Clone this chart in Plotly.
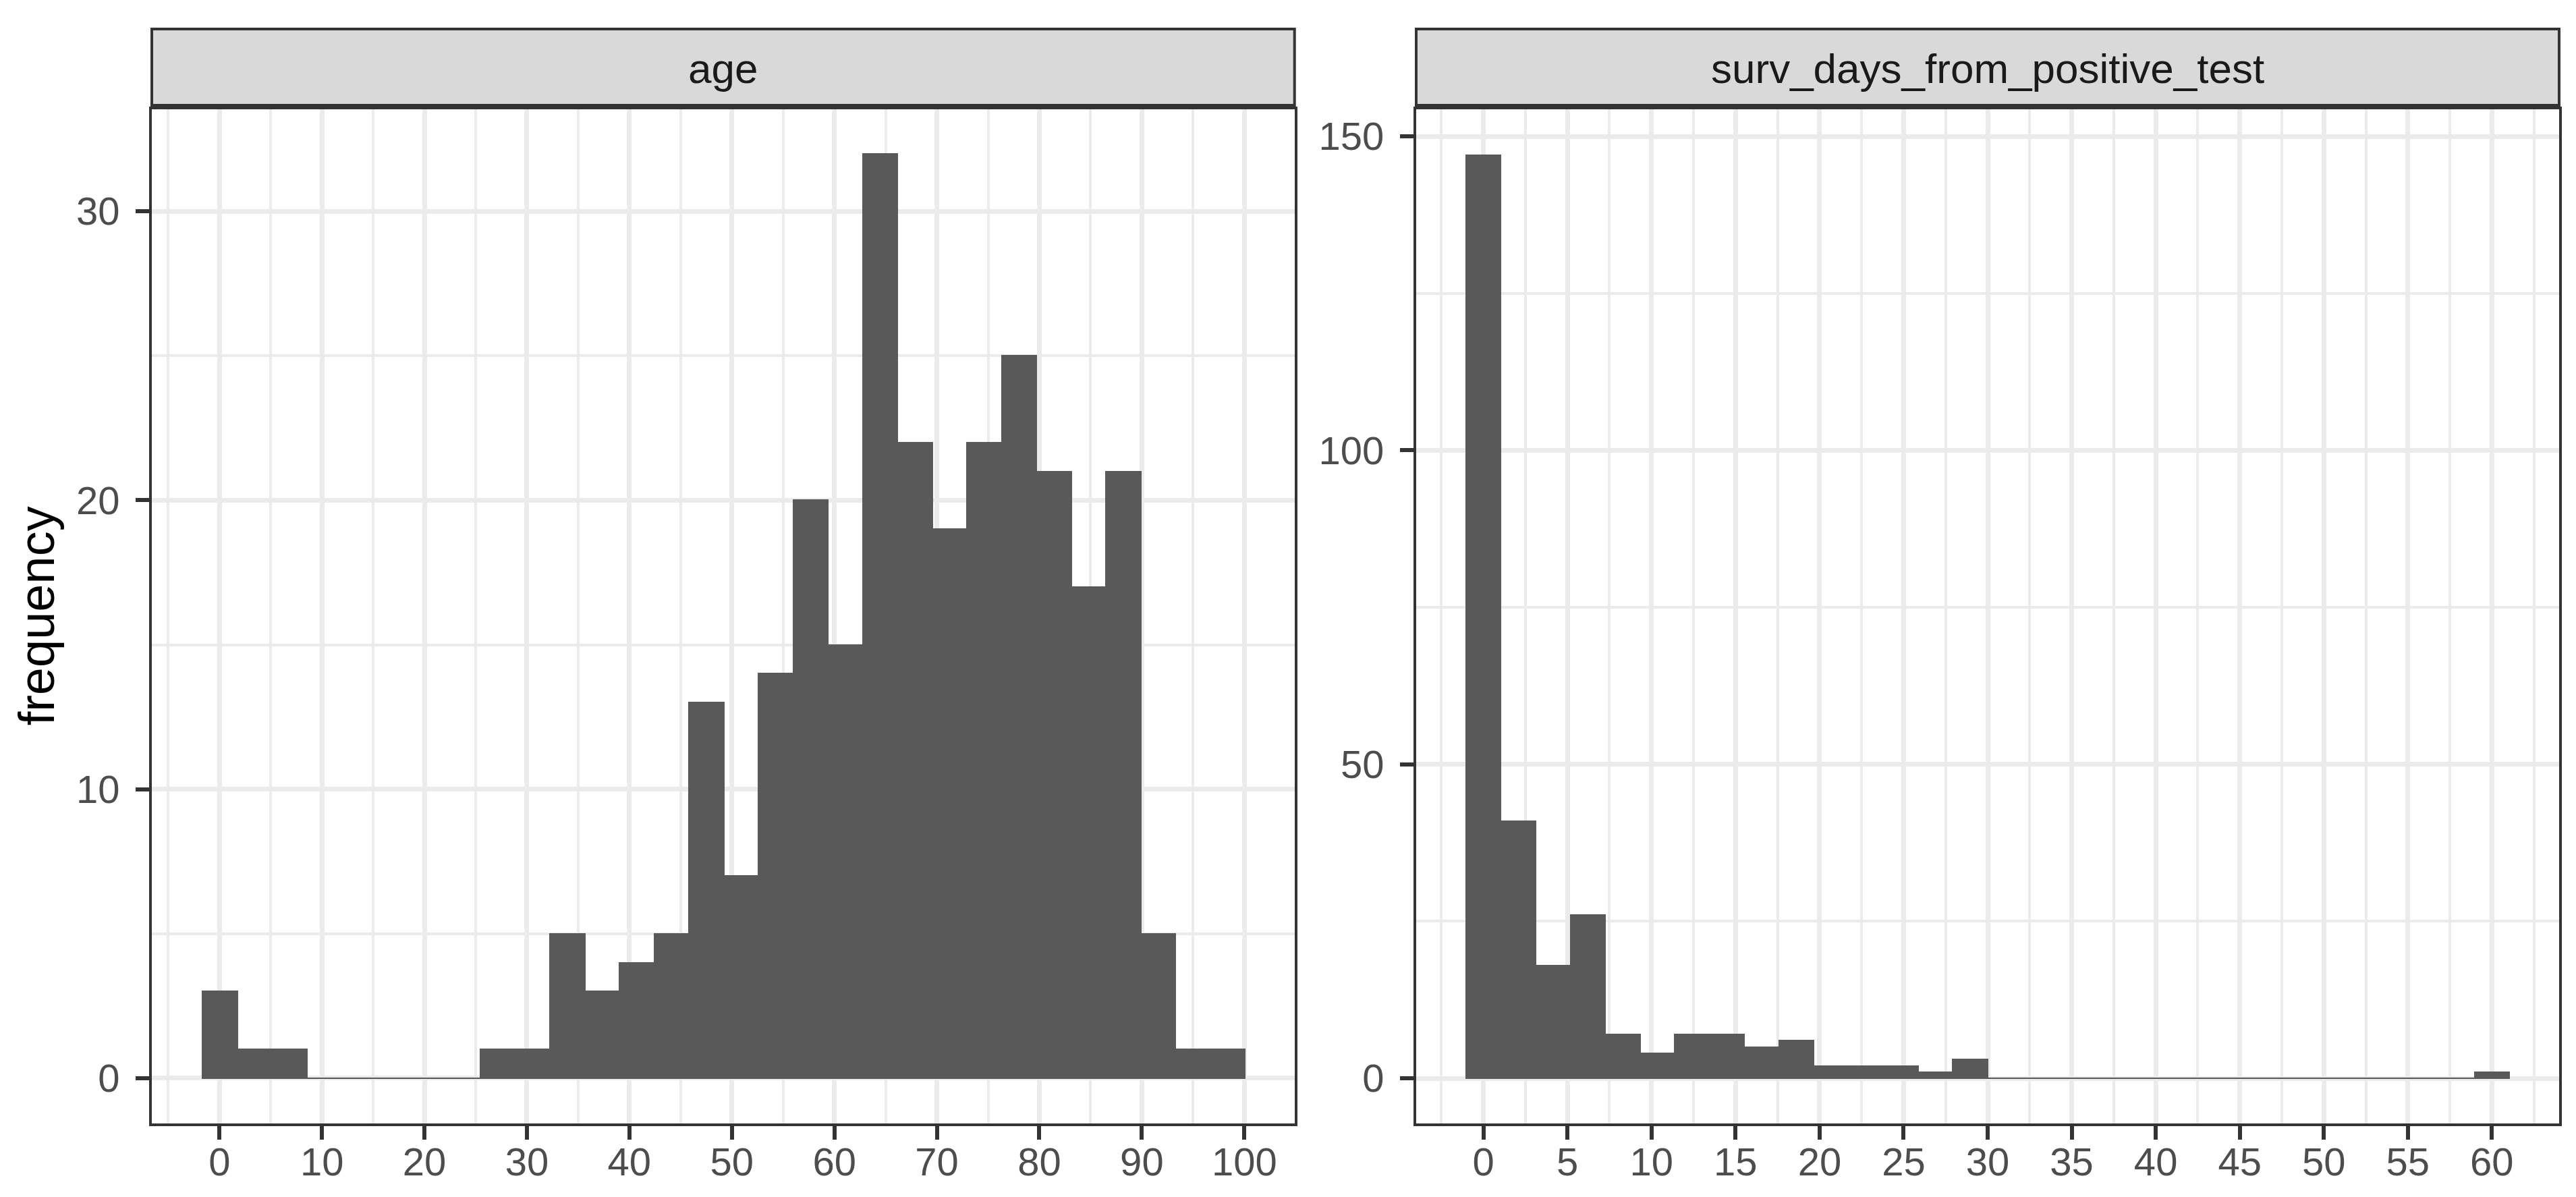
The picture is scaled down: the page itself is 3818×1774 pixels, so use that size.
import plotly.graph_objects as go

# ---------------- data ----------------
age_bin_start = -1.65
age_bin_width = 3.39
age_counts = [3, 1, 1, 0, 0, 0, 0, 0, 1, 1, 5, 3, 4, 5, 13, 7, 14, 20, 15, 32,
              22, 19, 22, 25, 21, 17, 21, 5, 1, 1]

surv_bin_start = -1.034
surv_bin_width = 2.069
surv_counts = [147, 41, 18, 26, 7, 4, 7, 7, 5, 6, 2, 2, 2, 1, 3,
               0, 0, 0, 0, 0, 0, 0, 0, 0, 0, 0, 0, 0, 0, 1]

panel_titles = ["age", "surv_days_from_positive_test"]
y_title = "frequency"

age_xticks = [0, 10, 20, 30, 40, 50, 60, 70, 80, 90, 100]
surv_xticks = [0, 5, 10, 15, 20, 25, 30, 35, 40, 45, 50, 55, 60]
age_yticks = [0, 10, 20, 30]
surv_yticks = [0, 50, 100, 150]

# ---------------- geometry ----------------
W, H = 3818, 1774
FONT = "Liberation Sans, Arial, sans-serif"
BAR = "#595959"
GRID = "#EBEBEB"
BORDER = "#333333"

def px_x(p):
    return p / W

def px_y(p):
    return 1 - p / H

panel_top, panel_bot = 154, 1656.7
strip_top, strip_bot = 35, 148
left_x = (217, 1910.7)
right_x = (2091, 3785)


def centers(start, width, counts):
    return [start + width * (i + 0.5) for i in range(len(counts))]


fig = go.Figure()
fig.add_trace(go.Bar(
    x=centers(age_bin_start, age_bin_width, age_counts), y=age_counts,
    width=age_bin_width, marker=dict(color=BAR, line=dict(color=BAR, width=2)),
    xaxis="x", yaxis="y", showlegend=False))
fig.add_trace(go.Bar(
    x=centers(surv_bin_start, surv_bin_width, surv_counts), y=surv_counts,
    width=surv_bin_width, marker=dict(color=BAR, line=dict(color=BAR, width=2)),
    xaxis="x2", yaxis="y2", showlegend=False))

tickfont = dict(family=FONT, size=58, color="#4D4D4D")
common = dict(showline=True, mirror=True, linecolor=BORDER, linewidth=4,
              ticks="outside", ticklen=20, tickwidth=6, tickcolor=BORDER,
              showgrid=True, gridcolor=GRID, gridwidth=7, zeroline=False,
              tickfont=tickfont, automargin=False, fixedrange=True)

ydom = [px_y(panel_bot), px_y(panel_top)]
XSTAND = -16
YSTAND = 12

fig.update_layout(
    width=W, height=H,
    margin=dict(l=0, r=0, t=0, b=0),
    paper_bgcolor="white", plot_bgcolor="white",
    bargap=0,
    xaxis=dict(domain=[px_x(left_x[0]), px_x(left_x[1])], range=[-6.6, 104.9],
               tickmode="array", tickvals=age_xticks, anchor="y",
               ticklabelstandoff=XSTAND,
               minor=dict(tick0=5, dtick=10, showgrid=True, gridcolor=GRID,
                          gridwidth=4, ticks=""), **common),
    yaxis=dict(domain=ydom, range=[-1.56, 33.53], tickmode="array",
               tickvals=age_yticks, anchor="x", ticklabelstandoff=YSTAND,
               minor=dict(tick0=5, dtick=10, showgrid=True, gridcolor=GRID,
                          gridwidth=4, ticks=""), **common),
    xaxis2=dict(domain=[px_x(right_x[0]), px_x(right_x[1])], range=[-4.0, 64.0],
                tickmode="array", tickvals=surv_xticks, anchor="y2",
                ticklabelstandoff=XSTAND,
                minor=dict(tick0=2.5, dtick=5, showgrid=True, gridcolor=GRID,
                           gridwidth=4, ticks=""), **common),
    yaxis2=dict(domain=ydom, range=[-7.15, 154.3], tickmode="array",
                tickvals=surv_yticks, anchor="x2", ticklabelstandoff=YSTAND,
                minor=dict(tick0=25, dtick=50, showgrid=True, gridcolor=GRID,
                           gridwidth=4, ticks=""), **common),
)

# facet strips
for (x0, x1), title in zip([left_x, right_x], panel_titles):
    fig.add_shape(type="rect", xref="paper", yref="paper",
                  x0=px_x(x0), x1=px_x(x1), y0=px_y(strip_bot), y1=px_y(strip_top),
                  fillcolor="#D9D9D9", line=dict(color=BORDER, width=4), layer="above")
    fig.add_annotation(xref="paper", yref="paper", x=px_x((x0 + x1) / 2),
                       y=px_y((strip_top + strip_bot) / 2 + 2), text=title,
                       showarrow=False, xanchor="center", yanchor="middle",
                       font=dict(family=FONT, size=62, color="#1A1A1A"))

fig.add_annotation(xref="paper", yref="paper", x=px_x(46),
                   y=px_y((panel_top + panel_bot) / 2), text=y_title,
                   textangle=-90, showarrow=False, xanchor="center", yanchor="middle",
                   font=dict(family=FONT, size=74, color="black"))

fig.write_html("out.html")
